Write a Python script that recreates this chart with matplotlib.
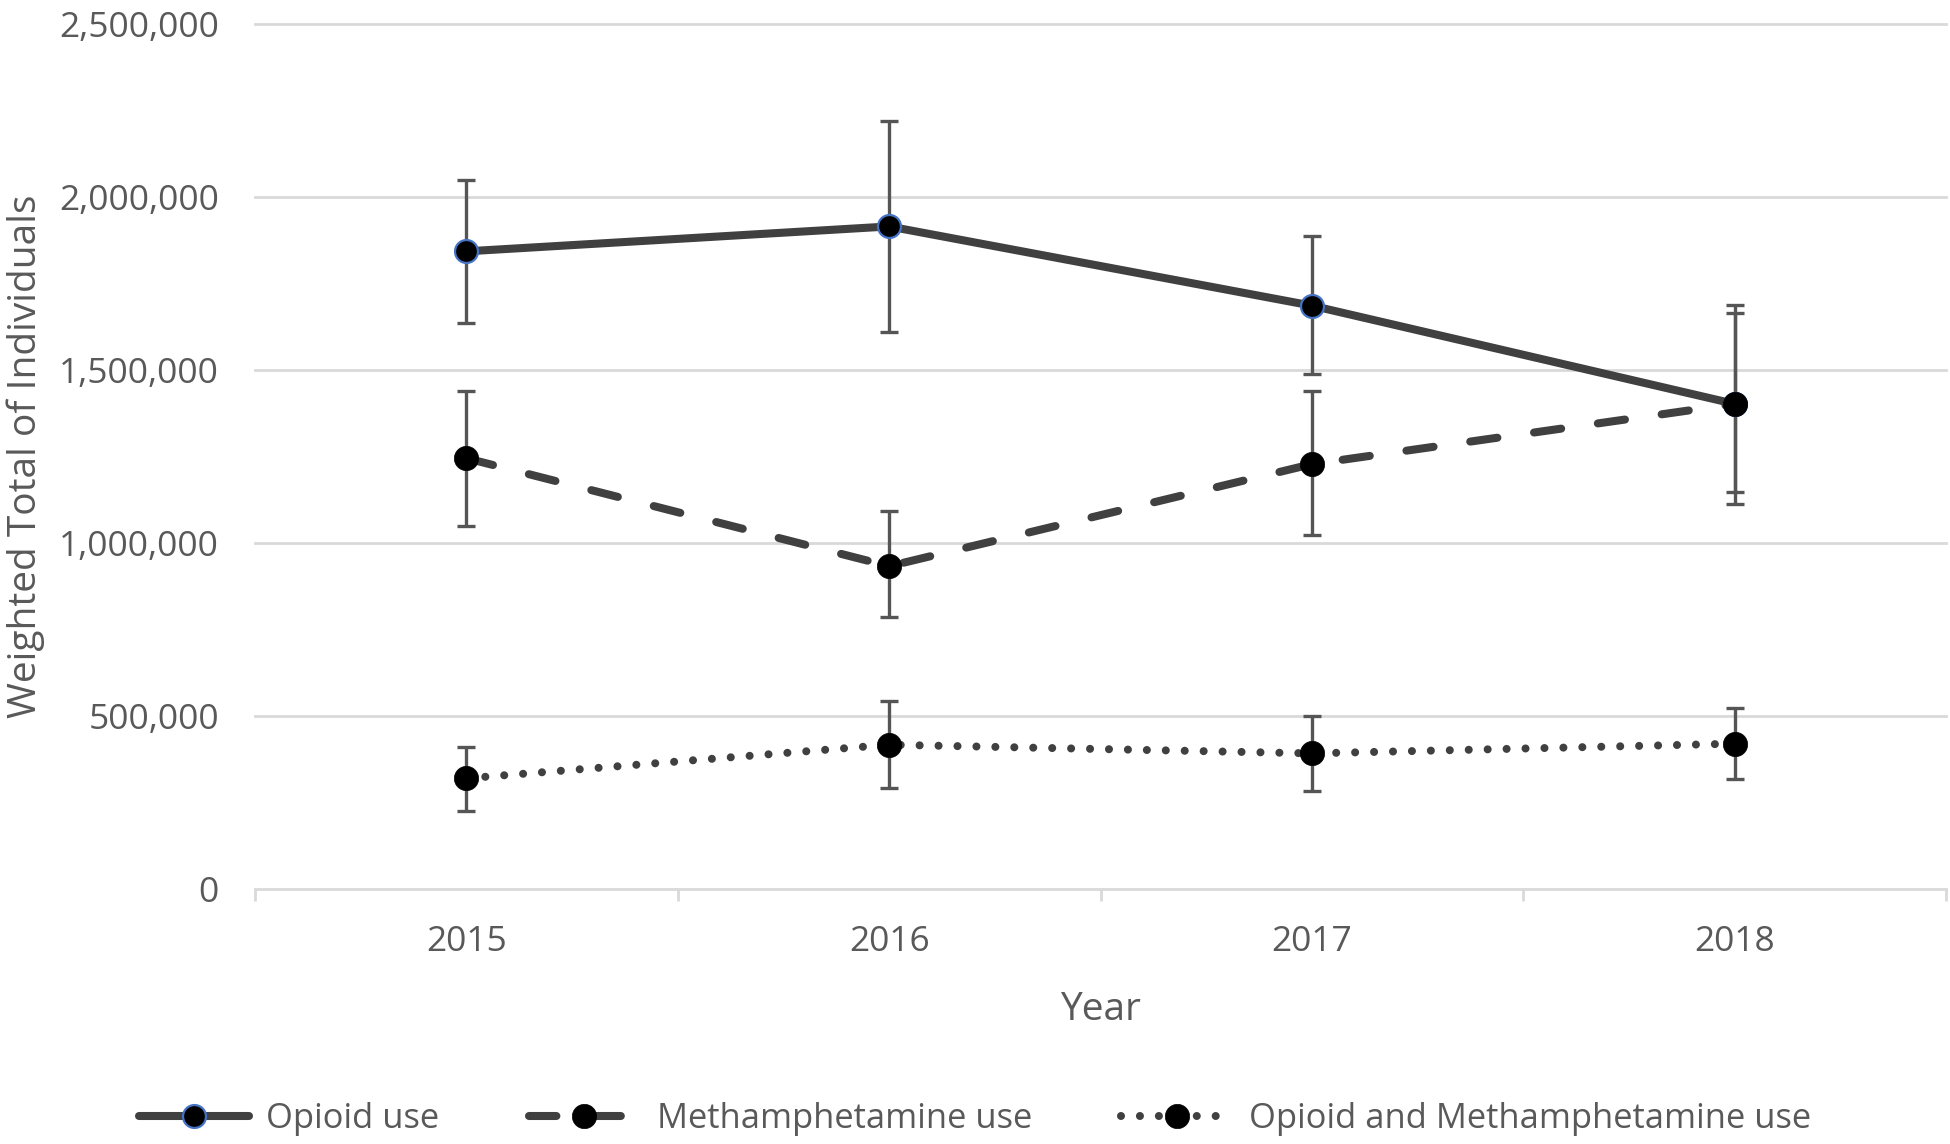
import matplotlib
matplotlib.use("Agg")
import matplotlib.pyplot as plt
from matplotlib.ticker import FuncFormatter

plt.rcParams['font.family'] = ['Open Sans', 'DejaVu Sans']

years = ["2015", "2016", "2017", "2018"]

opioid = [1843000, 1915000, 1686000, 1402000]
opioid_lo = [1637000, 1610000, 1489000, 1113000]
opioid_hi = [2048000, 2220000, 1887000, 1688000]

meth = [1245000, 933000, 1228000, 1402000]
meth_lo = [1049000, 787000, 1022000, 1147000]
meth_hi = [1440000, 1092000, 1439000, 1665000]

both = [320000, 417000, 392000, 420000]
both_lo = [226000, 291000, 284000, 317000]
both_hi = [409000, 542000, 499000, 523000]

yticks = [0, 500000, 1000000, 1500000, 2000000, 2500000]

series_labels = ["Opioid use", "Methamphetamine use", "Opioid and Methamphetamine use"]

TEXT = "#595959"
LINE = "#404040"
GRID = "#d9d9d9"
ERR = "#555555"

fig = plt.figure(figsize=(19.5, 11.44), dpi=100)
ax = fig.add_axes([0.1308, 0.2229, 0.998 - 0.1308, 0.979 - 0.2229])

x = list(range(len(years)))

for v in yticks:
    ax.axhline(v, color=GRID, lw=2.0, zorder=0, clip_on=False)

def err(vals, lo, hi):
    return [[v - l for v, l in zip(vals, lo)], [h - v for v, h in zip(vals, hi)]]

for vals, lo, hi in [(opioid, opioid_lo, opioid_hi), (meth, meth_lo, meth_hi), (both, both_lo, both_hi)]:
    ax.errorbar(x, vals, yerr=err(vals, lo, hi), fmt='none', ecolor=ERR,
                elinewidth=2.4, capsize=6.8, capthick=2.4, zorder=2)

lw = 5.8
h1, = ax.plot(x, opioid, color=LINE, lw=lw, solid_capstyle='round', marker='o',
              ms=16.5, mfc='black', mec='#4472C4', mew=1.6, zorder=3, label=series_labels[0])
h2, = ax.plot(x, meth, color=LINE, lw=lw, dash_capstyle='round', linestyle=(0, (3.4, 4.6)),
              marker='o', ms=17.5, mfc='black', mec='black', mew=0.5, zorder=4, label=series_labels[1])
h3, = ax.plot(x, both, color=LINE, lw=lw, dash_capstyle='round', linestyle=(0, (0.001, 2.35)),
              marker='o', ms=17.5, mfc='black', mec='black', mew=0.5, zorder=4, label=series_labels[2])

ax.set_xlim(-0.5, len(years) - 0.5)
ax.set_ylim(0, 2500000)
ax.set_yticks(yticks)
ax.yaxis.set_major_formatter(FuncFormatter(lambda v, p: f"{v:,.0f}"))
ax.set_xticks(x)
ax.set_xticklabels(years)
ax.set_xticks([i - 0.5 for i in range(len(years) + 1)], minor=True)

for s in ax.spines.values():
    s.set_visible(False)

ax.tick_params(axis='y', which='both', length=0, pad=26, labelsize=25.5, labelcolor=TEXT)
ax.tick_params(axis='x', which='major', length=0, pad=26, labelsize=25.5, labelcolor=TEXT)
ax.tick_params(axis='x', which='minor', length=8.6, width=2.0, color=GRID, direction='out')

ax.set_ylabel("Weighted Total of Individuals", fontsize=28, color=TEXT)
ax.yaxis.set_label_coords(-0.1355, 0.5)
ax.set_xlabel("Year", fontsize=28, color=TEXT)
ax.xaxis.set_label_coords(0.5, -0.1395)
ax.xaxis.label.set_va('center')
ax.yaxis.label.set_va('center')

fig.legend(handles=[h1, h2, h3], loc='center', bbox_to_anchor=(0.5, 1 - 1119 / 1144),
           ncol=3, frameon=False, fontsize=24.8, labelcolor=TEXT,
           handlelength=3.2, handletextpad=0.5, columnspacing=2.6)

fig.savefig("out.png", dpi=100)
